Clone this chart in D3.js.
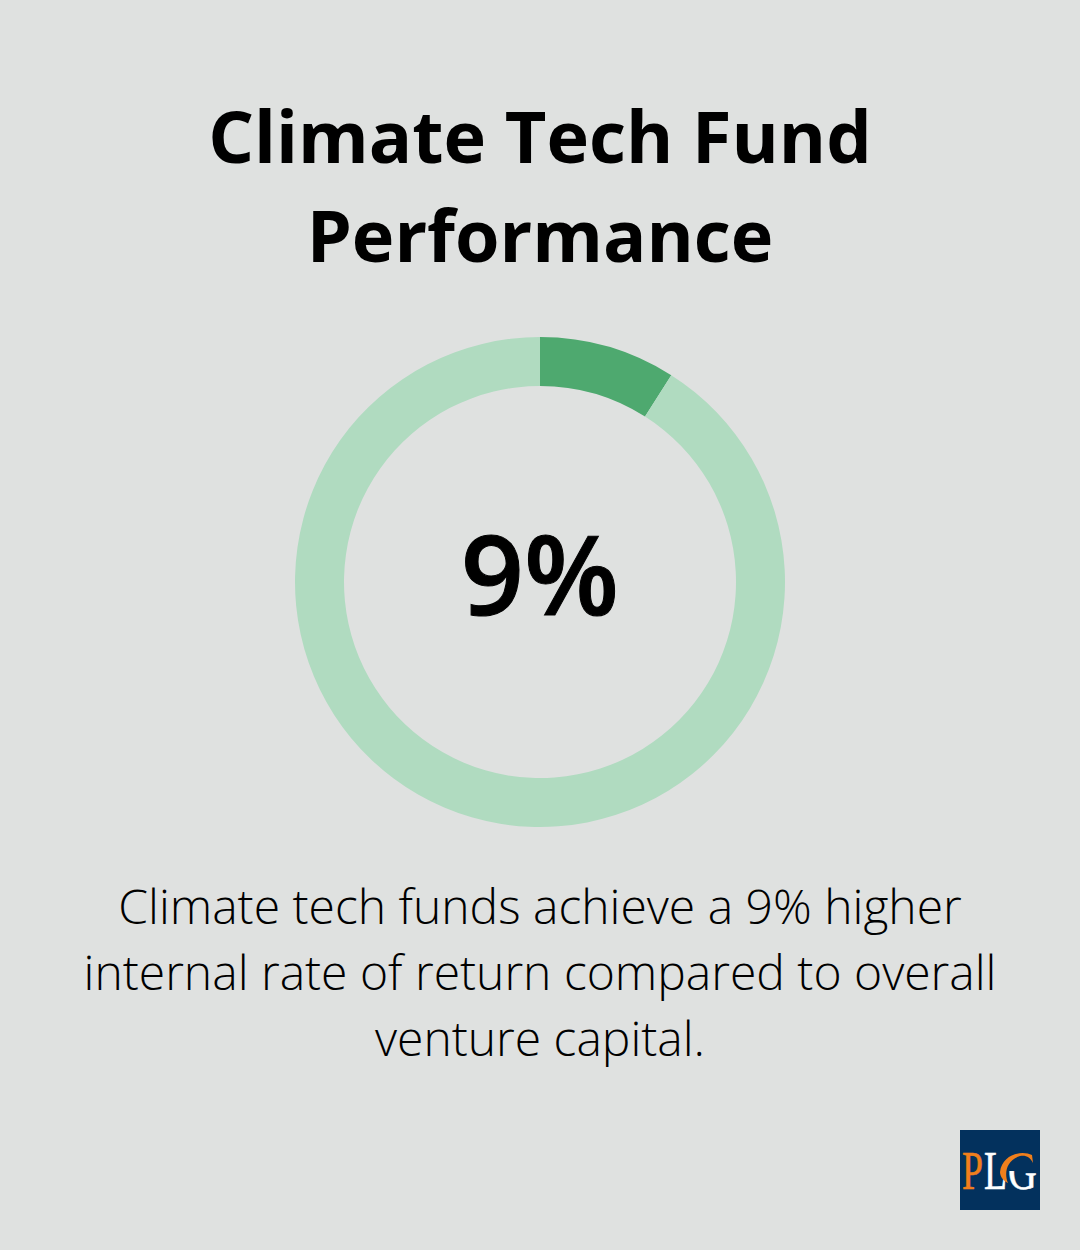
<!DOCTYPE html>
<html>
<head>
<meta charset="utf-8">
<script src="https://cdn.jsdelivr.net/npm/d3@7"></script>
<style>
  html, body { margin: 0; padding: 0; background: #dfe1e0; }
  svg { display: block; }
</style>
</head>
<body>
<div id="chart"></div>
<script>
var titleLines = ["Climate Tech Fund", "Performance"];
var captionLines = ["Climate tech funds achieve a 9% higher", "internal rate of return compared to overall", "venture capital."];
var sliceNames = ["higher IRR", "rest"];
var sliceValues = [9, 91];
var sliceColors = ["#4ea96f", "#b0dbc0"];
var centerLabel = "9%";
var logoLetters = ["P", "L", "G"];
var logoColors = ["#f07f1c", "#ffffff", "#ffffff"];

var w = 1080, h = 1250;
var svg = d3.select("#chart").append("svg").attr("width", w).attr("height", h);
svg.append("rect").attr("width", w).attr("height", h).attr("fill", "#dfe1e0");

svg.selectAll("text.title")
  .data(titleLines)
  .enter().append("text")
  .attr("class", "title")
  .attr("x", 540)
  .attr("y", function(d, i) { return 163 + i * 99; })
  .attr("text-anchor", "middle")
  .attr("font-family", "'Open Sans'")
  .attr("font-weight", 700)
  .attr("font-size", 72)
  .attr("fill", "#000")
  .text(function(d) { return d; });

var pie = d3.pie().sort(null);
var arc = d3.arc().innerRadius(196).outerRadius(245);
var ring = svg.append("g").attr("transform", "translate(540,582)");
ring.selectAll("path")
  .data(pie(sliceValues))
  .enter().append("path")
  .attr("d", arc)
  .attr("fill", function(d, i) { return sliceColors[i]; })
  .append("title").text(function(d, i) { return sliceNames[i]; });

svg.append("text")
  .attr("x", 540)
  .attr("y", 615)
  .attr("text-anchor", "middle")
  .attr("font-family", "'Open Sans'")
  .attr("font-weight", 600)
  .attr("font-size", 110)
  .attr("stroke", "#000")
  .attr("stroke-width", 1)
  .attr("fill", "#000")
  .text(centerLabel);

svg.selectAll("text.caption")
  .data(captionLines)
  .enter().append("text")
  .attr("class", "caption")
  .attr("x", 540)
  .attr("y", function(d, i) { return 924 + i * 66; })
  .attr("text-anchor", "middle")
  .attr("font-family", "'Open Sans'")
  .attr("font-weight", 300)
  .attr("font-size", 48)
  .attr("fill", "#000")
  .text(function(d) { return d; });

// logo, letters squeezed with a scale so they sit side by side
var logoX = [2, 24, 48];
var logoSx = [0.7, 0.7, 0.74];
var logo = svg.append("g").attr("transform", "translate(960,1130)");
logo.append("rect").attr("width", 80).attr("height", 80).attr("fill", "#03315d");
logo.append("clipPath").attr("id", "gclip")
  .append("rect").attr("x", 40).attr("y", 41).attr("width", 40).attr("height", 22);
logo.selectAll("g.letter")
  .data(logoLetters)
  .enter().append("g")
  .attr("class", "letter")
  .attr("clip-path", function(d) { return d == "G" ? "url(#gclip)" : null; })
  .append("text")
  .attr("transform", function(d, i) { return "translate(" + logoX[i] + ",59) scale(" + logoSx[i] + ",1)"; })
  .attr("font-family", "'Liberation Serif'")
  .attr("font-size", 54)
  .attr("stroke", function(d, i) { return logoColors[i]; })
  .attr("stroke-width", 0.6)
  .attr("fill", function(d, i) { return logoColors[i]; })
  .text(function(d) { return d; });
// orange swoosh is the top and left of the G
logo.append("path")
  .attr("d", "M73 33 L72 25 C62 20 42 24 40 42 C40 47 44 51 48 53 C44 44 46 30 60 26 C66 25 70 27 73 33 Z")
  .attr("fill", "#f07f1c");
</script>
</body>
</html>
